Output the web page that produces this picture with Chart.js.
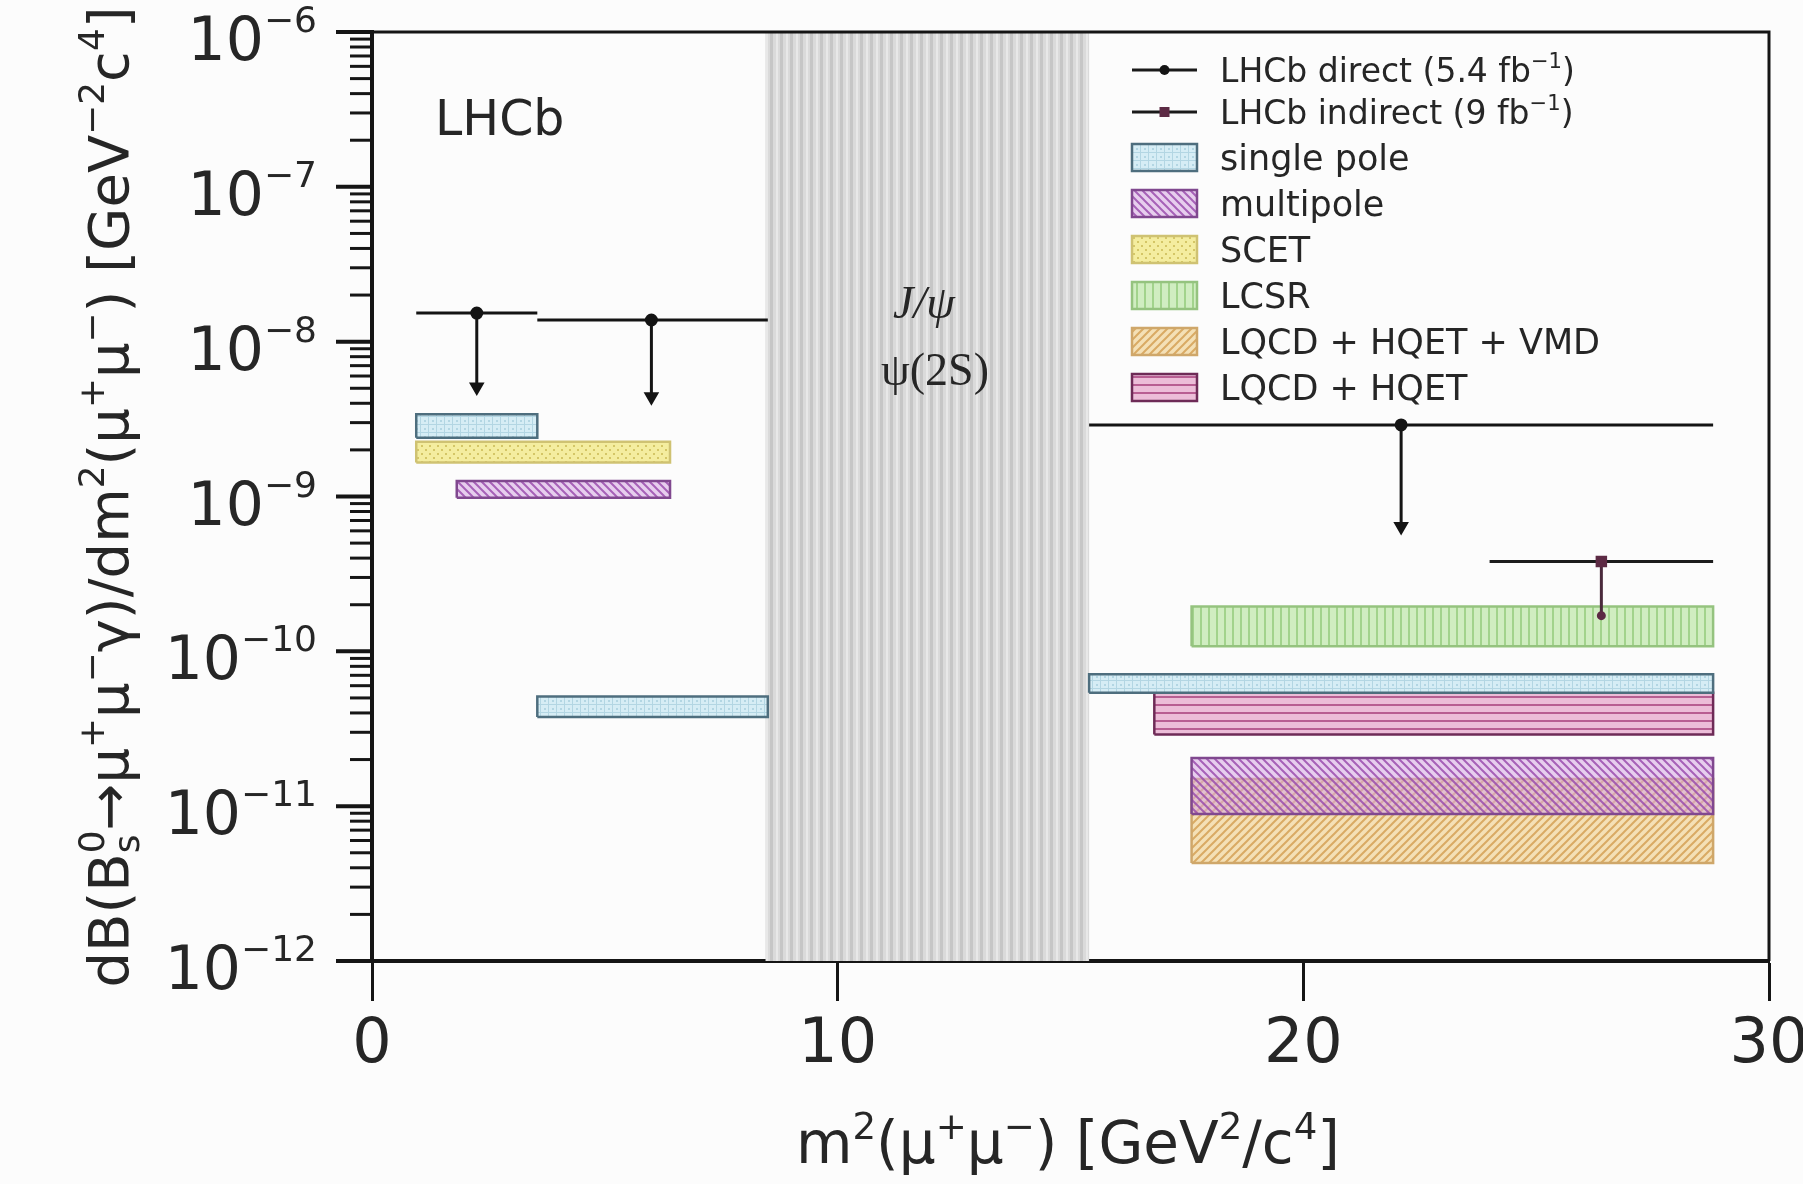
<!DOCTYPE html>
<html lang="en">
<head>
<meta charset="UTF-8">
<title>Bs0 to mu mu gamma - LHCb</title>
<script src="https://cdn.jsdelivr.net/npm/chart.js"></script>
<style>
  body { margin: 0; background: #fcfcfc; }
  #wrap { width: 1803px; height: 1184px; }
</style>
</head>
<body>
<div id="wrap"><canvas id="chart"></canvas></div>
<script>
// axis ticks
const xTicks = [0, 10, 20, 30];
const yTickExps = [-6, -7, -8, -9, -10, -11, -12];

// LHCb direct upper limits (5.4 fb-1)
const directLo = [0.95, 3.55, 15.4];
const directHi = [3.55, 8.5, 28.8];
const directMid = [2.25, 6.0, 22.1];
const directLimit = [1.53e-8, 1.38e-8, 2.9e-9];
const directArrow = [5.1e-9, 4.4e-9, 6.4e-10];

// LHCb indirect (9 fb-1)
const indirectLo = [24.0];
const indirectHi = [28.8];
const indirectMid = [26.4];
const indirectLimit = [3.8e-10];
const indirectLow = [1.7e-10];

// theory predictions: q2 range and branching fraction range
const singlePoleQ2 = [[0.95, 3.55], [3.55, 8.5], [15.4, 28.8]];
const singlePoleB = [[2.4e-9, 3.4e-9], [3.76e-11, 5.1e-11], [5.4e-11, 7.1e-11]];
const multipoleQ2 = [[1.82, 6.4], [17.6, 28.8]];
const multipoleB = [[0.98e-9, 1.26e-9], [8.9e-12, 2.05e-11]];
const scetQ2 = [[0.95, 6.4]];
const scetB = [[1.66e-9, 2.26e-9]];
const lcsrQ2 = [[17.6, 28.8]];
const lcsrB = [[1.08e-10, 1.95e-10]];
const vmdQ2 = [[17.6, 28.8]];
const vmdB = [[4.3e-12, 1.5e-11]];
const hqetQ2 = [[16.8, 28.8]];
const hqetB = [[2.9e-11, 5.4e-11]];

// charmonium veto region
const vetoQ2 = [8.45, 15.4];

const SANS = '"DejaVu Sans", Arial, sans-serif';
const SERIF = '"Liberation Serif", "Times New Roman", serif';
const INK = '#262626';

function hatch(bg, fg, kind) {
  const s = kind === 'band' ? 10 : 8;
  const c = document.createElement('canvas');
  c.width = c.height = s;
  const g = c.getContext('2d');
  g.fillStyle = bg;
  g.fillRect(0, 0, s, s);
  g.fillStyle = fg;
  g.strokeStyle = fg;
  g.lineWidth = 2;
  if (kind === 'vert') g.fillRect(0, 0, 2, s);
  else if (kind === 'horiz') g.fillRect(0, 0, s, 2);
  else if (kind === 'band') { g.fillRect(0, 0, 3, s); g.fillStyle = '#e8e8e8'; g.fillRect(6, 0, 2, s); }
  else if (kind === 'dots') { g.fillRect(1, 1, 2, 2); g.fillRect(5, 5, 2, 2); }
  else if (kind === 'grid') { g.fillRect(0, 0, s, 1); g.fillRect(0, 4, 2, 2); g.fillRect(4, 0, 1, s); }
  else {
    g.beginPath();
    if (kind === 'back') {
      g.moveTo(-1, -1); g.lineTo(s + 1, s + 1);
      g.moveTo(-1, s - 1); g.lineTo(1, s + 1);
      g.moveTo(s - 1, -1); g.lineTo(s + 1, 1);
    } else {
      g.moveTo(-1, s + 1); g.lineTo(s + 1, -1);
      g.moveTo(-1, 1); g.lineTo(1, -1);
      g.moveTo(s - 1, s + 1); g.lineTo(s + 1, s - 1);
    }
    g.stroke();
  }
  return g.createPattern(c, 'repeat');
}

const styles = {
  'single pole': { bg: hatch('#d6edf5', '#b3d6e3', 'grid'), line: '#4e6e7e' },
  'multipole': { bg: hatch('rgba(214,168,226,0.55)', 'rgba(150,70,170,0.8)', 'back'), line: '#80488f' },
  'SCET': { bg: hatch('#f4ed9f', '#d4c666', 'dots'), line: '#cfc272' },
  'LCSR': { bg: hatch('#d0edc1', '#a2d38c', 'vert'), line: '#95c37f' },
  'LQCD + HQET + VMD': { bg: hatch('#f4e0b6', '#d9aa64', 'fwd'), line: '#cfa76a' },
  'LQCD + HQET': { bg: hatch('#ecbdd8', '#b85e92', 'horiz'), line: '#6e2b57' }
};

function boxData(q, b) {
  return [
    { x: q[0], y: b[0] }, { x: q[0], y: b[1] }, { x: q[1], y: b[1] },
    { x: q[1], y: b[0] }, { x: q[0], y: b[0] }
  ];
}

function boxSets(label, qs, bs, order) {
  const st = styles[label];
  return qs.map((q, i) => ({
    label: label,
    data: boxData(q, bs[i]),
    fill: 'shape',
    backgroundColor: st.bg,
    borderColor: st.line,
    borderWidth: 2.5,
    pointRadius: 0,
    order: order
  }));
}

const datasets = [];
datasets.push({
  label: 'veto',
  data: boxData(vetoQ2, [1e-12, 1e-6]),
  fill: 'shape',
  backgroundColor: hatch('#dadada', '#c6c6c6', 'band'),
  borderWidth: 0,
  pointRadius: 0,
  order: 20
});
datasets.push(...boxSets('LQCD + HQET + VMD', vmdQ2, vmdB, 8));
datasets.push(...boxSets('multipole', multipoleQ2, multipoleB, 7));
datasets.push(...boxSets('SCET', scetQ2, scetB, 6));
datasets.push(...boxSets('LCSR', lcsrQ2, lcsrB, 6));
datasets.push(...boxSets('LQCD + HQET', hqetQ2, hqetB, 6));
datasets.push(...boxSets('single pole', singlePoleQ2, singlePoleB, 5));

directLo.forEach((lo, i) => {
  datasets.push({
    label: 'direct',
    data: [{ x: lo, y: directLimit[i] }, { x: directHi[i], y: directLimit[i] }],
    borderColor: '#141414', borderWidth: 3, pointRadius: 0, fill: false, order: 1
  });
  datasets.push({
    label: 'direct',
    data: [{ x: directMid[i], y: directLimit[i] }, { x: directMid[i], y: directArrow[i] }],
    borderColor: '#141414', borderWidth: 3, fill: false, order: 0,
    pointRadius: [5, 6], pointStyle: ['circle', 'triangle'], pointRotation: [0, 180],
    pointBackgroundColor: '#141414', pointBorderColor: '#141414'
  });
});
indirectLo.forEach((lo, i) => {
  datasets.push({
    label: 'indirect',
    data: [{ x: lo, y: indirectLimit[i] }, { x: indirectHi[i], y: indirectLimit[i] }],
    borderColor: '#1c1c1c', borderWidth: 3, pointRadius: 0, fill: false, order: 1
  });
  datasets.push({
    label: 'indirect',
    data: [{ x: indirectMid[i], y: indirectLimit[i] }, { x: indirectMid[i], y: indirectLow[i] }],
    borderColor: '#4a2a3c', borderWidth: 3, fill: false, order: 0,
    pointRadius: [6, 3], pointStyle: ['rect', 'circle'],
    pointBackgroundColor: '#5c2a44', pointBorderColor: '#5c2a44'
  });
});

// legend rows (text segments)
const legendRows = [
  { kind: 'direct', text: [['LHCb direct (5.4 fb'], ['\u22121', 'sup'], [')']] },
  { kind: 'indirect', text: [['LHCb indirect (9 fb'], ['\u22121', 'sup'], [')']] },
  { kind: 'single pole', text: [['single pole']] },
  { kind: 'multipole', text: [['multipole']] },
  { kind: 'SCET', text: [['SCET']] },
  { kind: 'LCSR', text: [['LCSR']] },
  { kind: 'LQCD + HQET + VMD', text: [['LQCD + HQET + VMD']] },
  { kind: 'LQCD + HQET', text: [['LQCD + HQET']] }
];
const legendY = [70, 112, 157, 203, 249, 295, 341, 387];

const xTitle = [['m'], ['2', 'sup'], ['(\u03bc'], ['+', 'sup'], ['\u03bc'], ['\u2212', 'sup'], [') [GeV'], ['2', 'sup'], ['/c'], ['4', 'sup'], [']']];
const yTitle = [['dB(B'], ['0', 'ss', 's'], ['\u2192\u03bc'], ['+', 'sup'], ['\u03bc'], ['\u2212', 'sup'], ['\u03b3)/dm'], ['2', 'sup'],
  ['(\u03bc'], ['+', 'sup'], ['\u03bc'], ['\u2212', 'sup'], [') [GeV'], ['\u22122', 'sup'], ['c'], ['4', 'sup'], [']']];

function drawRich(ctx, segs, x, y, o) {
  const sz = o.size, ss = sz * (o.supScale || 0.64);
  const fam = o.family || SANS, sty = o.style ? o.style + ' ' : '';
  const f = s => sty + s + 'px ' + fam;
  const parts = segs.map(([t, kind, t2]) => {
    ctx.font = f(kind ? ss : sz);
    let w = ctx.measureText(t).width;
    if (kind === 'ss') w = Math.max(w, ctx.measureText(t2).width);
    return { t, kind, t2, w };
  });
  const total = parts.reduce((a, p) => a + p.w, 0);
  let cx = o.align === 'center' ? x - total / 2 : o.align === 'right' ? x - total : x;
  ctx.textAlign = 'left';
  ctx.textBaseline = 'alphabetic';
  const rise = o.rise || sz * 0.42, drop = sz * 0.2;
  parts.forEach(p => {
    if (!p.kind) {
      ctx.font = f(sz);
      ctx.fillText(p.t, cx, y);
    } else {
      ctx.font = f(ss);
      if (p.kind === 'sup' || p.kind === 'ss') ctx.fillText(p.t, cx, y - rise);
      if (p.kind === 'sub') ctx.fillText(p.t, cx, y + drop);
      if (p.kind === 'ss') ctx.fillText(p.t2, cx, y + drop);
    }
    cx += p.w;
  });
  return total;
}

const decor = {
  id: 'decor',
  beforeDraw(chart) {
    const ctx = chart.ctx;
    ctx.save();
    ctx.fillStyle = '#fcfcfc';
    ctx.fillRect(0, 0, chart.width, chart.height);
    ctx.restore();
  },
  afterDraw(chart) {
    const ctx = chart.ctx, ca = chart.chartArea, ys = chart.scales.y;
    ctx.save();
    // frame
    ctx.strokeStyle = '#151515';
    ctx.lineWidth = 3;
    ctx.beginPath();
    ctx.moveTo(ca.left, ca.top); ctx.lineTo(ca.right, ca.top); ctx.lineTo(ca.right, ca.bottom);
    ctx.stroke();

    // y ticks
    ctx.lineWidth = 3;
    for (let i = 0; i < yTickExps.length - 1; i++) {
      const e = yTickExps[i + 1];
      for (let m = 2; m <= 9; m++) {
        const py = ys.getPixelForValue(m * Math.pow(10, e));
        ctx.beginPath(); ctx.moveTo(ca.left - 22, py); ctx.lineTo(ca.left, py); ctx.stroke();
      }
    }
    ctx.lineWidth = 4;
    ctx.fillStyle = INK;
    yTickExps.forEach(e => {
      const py = ys.getPixelForValue(Math.pow(10, e));
      ctx.beginPath(); ctx.moveTo(ca.left - 36, py); ctx.lineTo(ca.left, py); ctx.stroke();
      drawRich(ctx, [['10'], ['\u2212' + Math.abs(e), 'sup']], 317, py + 28,
        { size: 60, supScale: 0.6, rise: 28, align: 'right' });
    });

    // axis titles
    drawRich(ctx, xTitle, 1068, 1163, { size: 58, align: 'center' });
    ctx.save();
    ctx.translate(128, 497);
    ctx.rotate(-Math.PI / 2);
    drawRich(ctx, yTitle, 0, 0, { size: 56, align: 'center' });
    ctx.restore();

    // labels
    drawRich(ctx, [['LHCb']], 435, 135, { size: 49 });
    drawRich(ctx, [['J/\u03c8']], 924, 318, { size: 46, family: SERIF, style: 'italic', align: 'center' });
    drawRich(ctx, [['\u03c8(2S)']], 935, 385, { size: 46, family: SERIF, align: 'center' });

    // legend
    const x0 = 1132, x1 = 1197, tx = 1220;
    legendRows.forEach((row, i) => {
      const ly = legendY[i];
      if (row.kind === 'direct' || row.kind === 'indirect') {
        const ds = chart.data.datasets.find(d => d.label === row.kind && d.pointStyle);
        ctx.strokeStyle = '#1a1a1a';
        ctx.lineWidth = 3;
        ctx.beginPath(); ctx.moveTo(x0, ly); ctx.lineTo(x1, ly); ctx.stroke();
        ctx.fillStyle = ds.pointBackgroundColor;
        if (row.kind === 'direct') {
          ctx.beginPath(); ctx.arc((x0 + x1) / 2, ly, 5, 0, Math.PI * 2); ctx.fill();
        } else {
          ctx.fillRect((x0 + x1) / 2 - 5, ly - 5, 10, 10);
        }
        ctx.fillStyle = INK;
        drawRich(ctx, row.text, tx, ly + 12, { size: 33 });
      } else {
        const ds = chart.data.datasets.find(d => d.label === row.kind);
        ctx.fillStyle = ds.backgroundColor;
        ctx.fillRect(x0, ly - 13, x1 - x0, 27);
        ctx.strokeStyle = ds.borderColor;
        ctx.lineWidth = 2.5;
        ctx.strokeRect(x0, ly - 13, x1 - x0, 27);
        ctx.fillStyle = INK;
        drawRich(ctx, row.text, tx, ly + 13, { size: 35 });
      }
    });
    ctx.restore();
  }
};

new Chart(document.getElementById('chart'), {
  type: 'line',
  data: { datasets: datasets },
  options: {
    responsive: true,
    maintainAspectRatio: false,
    animation: false,
    layout: { padding: { top: 32, right: 34, left: 0, bottom: 0 } },
    plugins: { legend: { display: false }, tooltip: { enabled: false } },
    elements: { line: { tension: 0 } },
    scales: {
      x: {
        type: 'linear', min: 0, max: 30, z: 1,
        afterBuildTicks: s => { s.ticks = xTicks.map(v => ({ value: v })); },
        ticks: { font: { family: SANS, size: 62 }, color: INK, padding: 8, maxRotation: 0 },
        grid: { drawOnChartArea: false, tickLength: 40, tickWidth: 3, tickColor: '#151515', color: '#151515' },
        border: { display: true, width: 4, color: '#151515' },
        afterFit: s => { s.height = 223; s.paddingLeft = 0; s.paddingRight = 0; }
      },
      y: {
        type: 'logarithmic', min: 1e-12, max: 1e-6, z: 1,
        ticks: { display: false },
        grid: { display: false },
        border: { display: true, width: 4, color: '#151515' },
        afterFit: s => { s.width = 372; }
      }
    }
  },
  plugins: [decor]
});
</script>
</body>
</html>
